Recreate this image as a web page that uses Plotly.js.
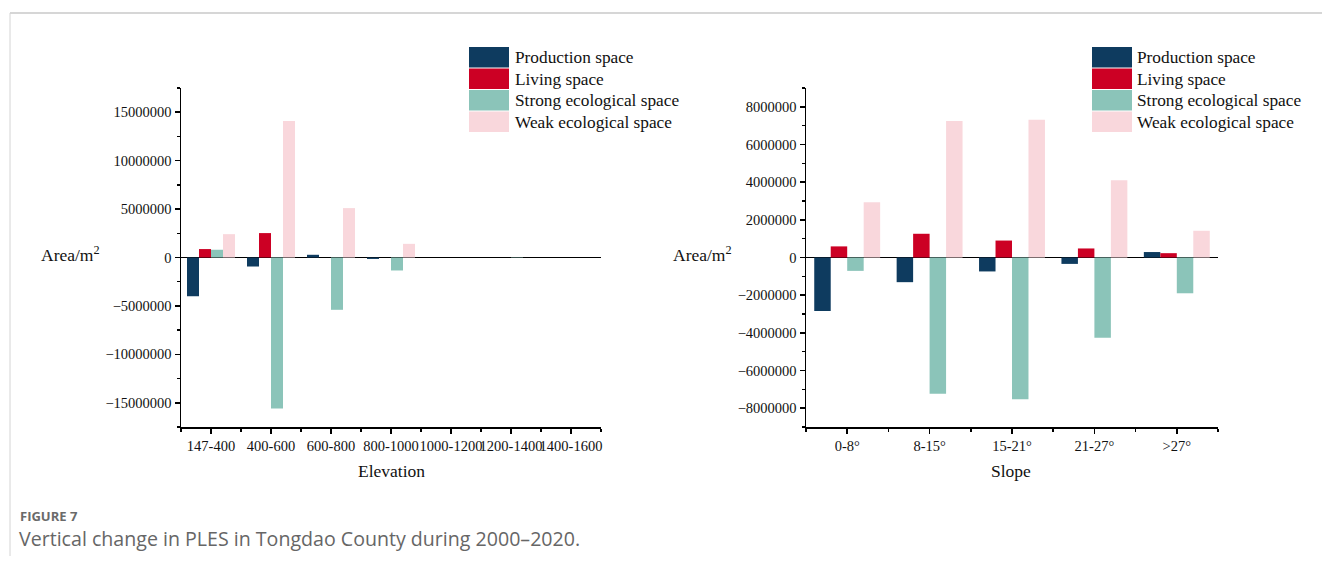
<!DOCTYPE html>
<html>
<head>
<meta charset="utf-8">
<script src="https://cdn.plot.ly/plotly-3.0.1.min.js"></script>
<style>
  html, body { margin: 0; padding: 0; background: #fff; }
  #chart { width: 1322px; height: 565px; }
</style>
</head>
<body>
<div id="chart"></div>
<script>
// Elevation bands (m) and slope classes
const elevationBands = ['147-400', '400-600', '600-800', '800-1000', '1000-1200', '1200-1400', '1400-1600'];
const slopeClasses = ['0-8°', '8-15°', '15-21°', '21-27°', '>27°'];

// Series names and colours
const seriesNames = ['Production space', 'Living space', 'Strong ecological space', 'Weak ecological space'];
const seriesColors = ['#0e3b5f', '#cc0024', '#8bc4b9', '#f9d7dc'];

// Area change (m²) by elevation band
const elevProduction = [-4000000, -930000, 280000, -150000, 0, 0, 0];
const elevLiving = [870000, 2520000, 0, 0, 0, 0, 0];
const elevStrong = [800000, -15600000, -5400000, -1340000, 0, -40000, 0];
const elevWeak = [2410000, 14100000, 5100000, 1410000, 0, 0, 0];

// Area change (m²) by slope class
const slopeProduction = [-2840000, -1310000, -740000, -340000, 290000];
const slopeLiving = [590000, 1260000, 900000, 480000, 230000];
const slopeStrong = [-710000, -7230000, -7530000, -4260000, -1900000];
const slopeWeak = [2930000, 7250000, 7310000, 4100000, 1420000];

const W = 1322, H = 565;
const px = v => v / W;          // pixel -> paper x
const py = v => 1 - v / H;      // pixel -> paper y

const serif = 'Liberation Serif, Times New Roman, serif';
const sans = 'Open Sans, Noto Sans, sans-serif';

function barTraces(cats, seriesList, xa, ya) {
  const idx = cats.map((_, i) => i);
  return seriesList.map((vals, k) => ({
    type: 'bar',
    x: idx,
    y: vals,
    name: seriesNames[k],
    xaxis: xa,
    yaxis: ya,
    marker: { color: seriesColors[k], line: { width: 0 } },
    showlegend: false,
    hoverinfo: 'skip'
  }));
}

const traces = [
  ...barTraces(elevationBands, [elevProduction, elevLiving, elevStrong, elevWeak], 'x', 'y'),
  ...barTraces(slopeClasses, [slopeProduction, slopeLiving, slopeStrong, slopeWeak], 'x2', 'y2')
];

function xAxis(cats, domain, anchor) {
  return {
    domain: domain,
    anchor: anchor,
    range: [-0.5, cats.length - 0.5],
    tickvals: cats.map((_, i) => i),
    ticktext: cats,
    tickangle: 0,
    ticks: 'outside', ticklen: 5, tickwidth: 1.5, tickcolor: '#000',
    minor: { ticks: 'outside', ticklen: 3, tickwidth: 1.5, tickcolor: '#000', tick0: 0.5, dtick: 1, showgrid: false },
    showline: true, linecolor: '#000', linewidth: 1.5,
    showgrid: false, zeroline: false,
    tickfont: { family: serif, size: 14.5, color: '#111' },
    fixedrange: true
  };
}

function yAxis(range, dtick, anchor) {
  return {
    domain: [py(427), py(88)],
    anchor: anchor,
    range: range,
    dtick: dtick,
    tick0: 0,
    tickformat: 'd',
    ticks: 'outside', ticklen: 5, tickwidth: 1.5, tickcolor: '#000',
    minor: { ticks: 'outside', ticklen: 3, tickwidth: 1.5, tickcolor: '#000', dtick: dtick / 2, showgrid: false },
    showline: true, linecolor: '#000', linewidth: 1.5,
    showgrid: false,
    zeroline: true, zerolinecolor: '#000', zerolinewidth: 1.5,
    tickfont: { family: serif, size: 14.5, color: '#111' },
    fixedrange: true
  };
}

// Legend boxes built from the series arrays
const shapes = [];
const annotations = [];
function addLegend(swatchLeft, textLeft) {
  seriesNames.forEach((name, k) => {
    const top = 47 + k * 21.5;
    shapes.push({
      type: 'rect', xref: 'paper', yref: 'paper',
      x0: px(swatchLeft), x1: px(swatchLeft + 40),
      y0: py(top + 20.5), y1: py(top),
      fillcolor: seriesColors[k], line: { width: 0 }
    });
    annotations.push({
      xref: 'paper', yref: 'paper', x: px(textLeft), y: py(top + 10.5),
      xanchor: 'left', yanchor: 'middle', showarrow: false,
      text: name, font: { family: serif, size: 17.3, color: '#111' }
    });
  });
}
addLegend(469, 513);
addLegend(1092, 1135);

// Axis titles
const titleFont = { family: serif, size: 17.5, color: '#111' };
annotations.push(
  { xref: 'paper', yref: 'paper', x: px(70), y: py(254), xanchor: 'center', yanchor: 'middle', showarrow: false, text: 'Area/m<sup>2</sup>', font: titleFont },
  { xref: 'paper', yref: 'paper', x: px(702), y: py(254), xanchor: 'center', yanchor: 'middle', showarrow: false, text: 'Area/m<sup>2</sup>', font: titleFont },
  { xref: 'paper', yref: 'paper', x: px(391), y: py(471), xanchor: 'center', yanchor: 'middle', showarrow: false, text: 'Elevation', font: titleFont },
  { xref: 'paper', yref: 'paper', x: px(1011), y: py(471), xanchor: 'center', yanchor: 'middle', showarrow: false, text: 'Slope', font: titleFont }
);

// Figure caption
annotations.push(
  { xref: 'paper', yref: 'paper', x: px(18), y: py(516), xanchor: 'left', yanchor: 'middle', showarrow: false,
    text: '<b>FIGURE 7</b>', font: { family: sans, size: 13, color: '#6a6a6a' } },
  { xref: 'paper', yref: 'paper', x: px(17), y: py(538), xanchor: 'left', yanchor: 'middle', showarrow: false,
    text: 'Vertical change in PLES in Tongdao County during 2000\u20132020.', font: { family: sans, size: 19.6, color: '#666' } }
);

// Frame rules at the top and left of the figure panel
shapes.push(
  { type: 'line', xref: 'paper', yref: 'paper', x0: px(10), x1: 1, y0: py(13), y1: py(13), line: { color: '#c9c9c9', width: 1.5 } },
  { type: 'line', xref: 'paper', yref: 'paper', x0: px(10), x1: px(10), y0: py(13), y1: py(556), line: { color: '#d4d4d4', width: 1 } }
);

const layout = {
  width: W, height: H,
  margin: { l: 0, r: 0, t: 0, b: 0 },
  paper_bgcolor: '#fff', plot_bgcolor: '#fff',
  barmode: 'group', bargap: 0.2, bargroupgap: 0,
  showlegend: false,
  xaxis: xAxis(elevationBands, [px(181), px(601)], 'y'),
  yaxis: yAxis([-17500000, 17500000], 5000000, 'x'),
  xaxis2: xAxis(slopeClasses, [px(806), px(1218)], 'y2'),
  yaxis2: yAxis([-9000000, 9000000], 2000000, 'x2'),
  shapes: shapes,
  annotations: annotations
};

Plotly.newPlot('chart', traces, layout, { staticPlot: true, displayModeBar: false });
</script>
</body>
</html>
